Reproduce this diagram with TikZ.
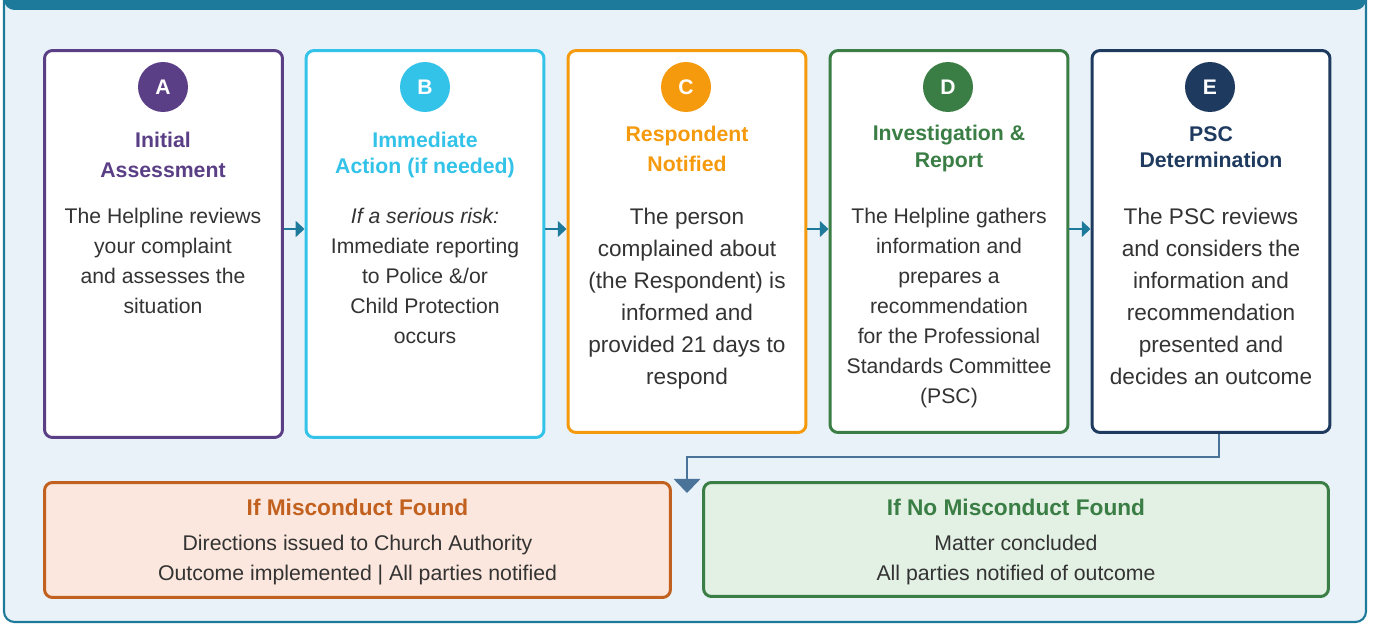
\documentclass[tikz,border=0pt]{standalone}
\usepackage{fontspec}
\setmainfont{Liberation Sans}
\usetikzlibrary{arrows.meta,calc}

\definecolor{frameteal}{HTML}{1E7A9A}
\definecolor{panelbg}{HTML}{EAF2F9}
\definecolor{stepA}{HTML}{5B3F86}
\definecolor{stepB}{HTML}{33C3E8}
\definecolor{stepC}{HTML}{F59A0C}
\definecolor{stepD}{HTML}{3A7E45}
\definecolor{stepE}{HTML}{1F3A5F}
\definecolor{bodytext}{HTML}{333333}
\definecolor{mergeblue}{HTML}{4A7399}
\definecolor{foundfill}{HTML}{FBE7DD}
\definecolor{foundline}{HTML}{C2611F}
\definecolor{clearfill}{HTML}{E3F0E4}

\begin{document}
\begin{tikzpicture}[x=0.02cm,y=-0.02cm,
  card/.style={draw=#1,fill=white,line width=1.7pt,rounded corners=4.5pt,
    minimum width=4.76cm,inner sep=0pt},
  badge/.style={circle,fill=#1,text=white,minimum size=1cm,inner sep=0pt,
    font=\fontsize{12}{14}\selectfont\bfseries},
  steptitle/.style 2 args={text=#1,align=center,inner sep=0pt,
    font=\fontsize{12.1}{#2}\selectfont\bfseries},
  stepbody/.style={text=bodytext,align=center,inner sep=0pt,
    font=\fontsize{12.05}{17.07}\selectfont},
  bigbody/.style={text=bodytext,align=center,inner sep=0pt,
    font=\fontsize{12.86}{18.2}\selectfont},
  flow/.style={frameteal,line width=1.7pt,-{Triangle[length=5pt,width=9pt]}},
  merge/.style={mergeblue,line width=1.5pt,-{Triangle[length=8pt,width=15pt]}},
  outcome/.style 2 args={draw=#1,fill=#2,line width=1.7pt,rounded corners=4.5pt,
    inner sep=0pt},
  outcometitle/.style={text=#1,inner sep=0pt,font=\fontsize{12.9}{15}\selectfont\bfseries},
  outcomebody/.style={text=bodytext,align=center,inner sep=0pt,
    font=\fontsize{12.1}{17.07}\selectfont}]
  \useasboundingbox (0,0) rectangle (1373,625);

  % panel with its header strip
  \draw[frameteal,line width=1.2pt,fill=panelbg,rounded corners=6pt] (4,-30) rectangle (1366,622);
  \fill[frameteal,rounded corners=6pt] (4,-30) rectangle (1366,10);

  % the five steps
  \node[card=stepA,minimum height=7.74cm] (boxA) at (163.5,244) {};
  \node[card=stepB,minimum height=7.74cm] (boxB) at (425,244) {};
  \node[card=stepC,minimum height=7.64cm] (boxC) at (687,241.5) {};
  \node[card=stepD,minimum height=7.64cm] (boxD) at (949,241.5) {};
  \node[card=stepE,minimum height=7.64cm] (boxE) at (1211,241.5) {};

  \node[badge=stepA] (badgeA) at (163,87) {A};
  \node[badge=stepB] (badgeB) at (425,87) {B};
  \node[badge=stepC] (badgeC) at (686,87) {C};
  \node[badge=stepD] (badgeD) at (948,87) {D};
  \node[badge=stepE] (badgeE) at (1210,87) {E};

  \node[steptitle={stepA}{17}] (titleA) at (163,155) {Initial\\Assessment};
  \node[steptitle={stepB}{14.8}] (titleB) at (425,155) {Immediate\\Action (if needed)};
  \node[steptitle={stepC}{17}] (titleC) at (687,148.5) {Respondent\\Notified};
  \node[steptitle={stepD}{15.4}] (titleD) at (949,148.5) {Investigation \&\\Report};
  \node[steptitle={stepE}{14.8}] (titleE) at (1211,147.5) {PSC\\Determination};

  \node[stepbody] (textA) at (163,261) {The Helpline reviews\\your complaint\\and assesses the\\situation};
  \node[stepbody] (textB) at (425,276) {\textit{If a serious risk:}\\Immediate reporting\\to Police \&/or\\Child Protection\\occurs};
  \node[bigbody] (textC) at (687,299) {The person\\complained about\\(the Respondent) is\\informed and\\provided 21 days to\\respond};
  \node[stepbody] (textD) at (949,308) {The Helpline gathers\\information and\\prepares a\\recommendation\\for the Professional\\Standards Committee\\(PSC)};
  \node[bigbody] (textE) at (1211,296) {The PSC reviews\\and considers the\\information and\\recommendation\\presented and\\decides an outcome};

  \coordinate (flowrow) at (0,229);
  \foreach \a/\b in {A/B,B/C,C/D,D/E}
    \draw[flow] (box\a.east |- flowrow) -- (box\b.west |- flowrow);

  % the two outcomes
  \node[outcome={foundline}{foundfill},minimum width=12.52cm,minimum height=2.3cm] (found) at (357.5,540) {};
  \node[outcome={stepD}{clearfill},minimum width=12.5cm,minimum height=2.28cm] (clear) at (1016,539.5) {};
  \node[outcometitle=foundline] (foundttl) at (357.5,507) {If Misconduct Found};
  \node[outcomebody] (foundtxt) at (357.5,560) {Directions issued to Church Authority\\Outcome implemented | All parties notified};
  \node[outcometitle=stepD] (clearttl) at (1016,507) {If No Misconduct Found};
  \node[outcomebody] (cleartxt) at (1016,560) {Matter concluded\\All parties notified of outcome};

  \coordinate (mergetip) at (687,493);
  \draw[merge] ($(boxE.south)+(8,0)$) -- ++(0,23) -| (mergetip);
\end{tikzpicture}
\end{document}
